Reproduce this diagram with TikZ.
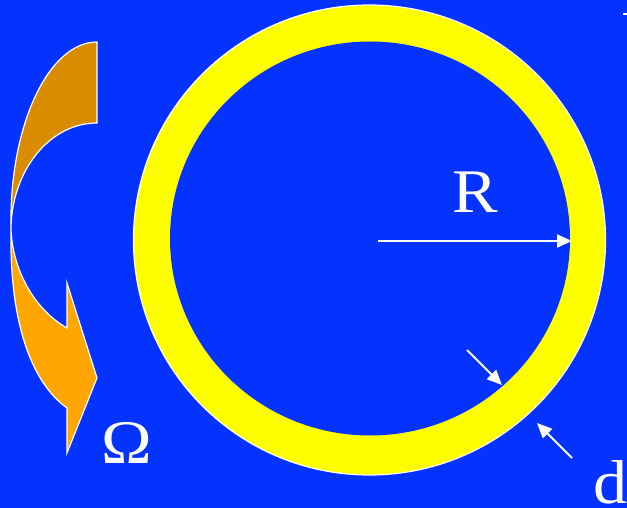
\documentclass[tikz,border=0pt]{standalone}
\usepackage{fontspec}
\setmainfont{Liberation Serif}
\usetikzlibrary{arrows.meta}
\definecolor{bg}{RGB}{4,51,255}
\definecolor{ringy}{RGB}{255,255,0}
\definecolor{dorange}{RGB}{217,140,0}
\definecolor{lorange}{RGB}{255,166,0}
\tikzset{
  lbl/.style={text=white,font=\fontsize{62}{74}\selectfont,inner sep=0pt,anchor=base,xscale=1.1},
  warrow/.style={draw=white,line width=2pt,-{Triangle[length=15pt,width=13pt]}},
  piece/.style={draw=white,line width=1.2pt,line join=miter}
}
\begin{document}
\begin{tikzpicture}[x=1pt,y=-1pt]
\useasboundingbox (0,0) rectangle (627,508);
\fill[bg] (0,0) rectangle (627,508);
% ring
\fill[ringy,draw=white,line width=1.2pt] (369.5,240) ellipse [x radius=236,y radius=235];
\fill[bg] (370,238.5) ellipse [x radius=200,y radius=197];
% curved arrow: top piece
\path[piece,fill=dorange] (97,42) -- (97,123) .. controls (50,123) and (12,170) .. (11,228)
   .. controls (9,125) and (49,42) .. (97,42) -- cycle;
% bottom piece
\path[piece,fill=lorange] (11,228) .. controls (9,330) and (35,385) .. (67,408)
   -- (67,453) -- (97,378) -- (67,283) -- (67,328)
   .. controls (35,310) and (12,270) .. (11,228) -- cycle;
% radius arrow
\coordinate (c0) at (378,241);
\coordinate (c1) at (572,241);
\draw[warrow] (c0) -- (c1);
\node[lbl] (R) at (475,213) {R};
% thickness arrows
\coordinate (a0) at (467,350);
\coordinate (a1) at (502,385);
\coordinate (b0) at (572,458);
\coordinate (b1) at (537,423);
\draw[warrow] (a0) -- (a1);
\draw[warrow] (b0) -- (b1);
\node[lbl] (d) at (611,503) {d};
\node[lbl] (Om) at (127,463) {Ω};
% small mark at top right
\fill[white] (623,13.5) rectangle (627,15.5);
\end{tikzpicture}
\end{document}
